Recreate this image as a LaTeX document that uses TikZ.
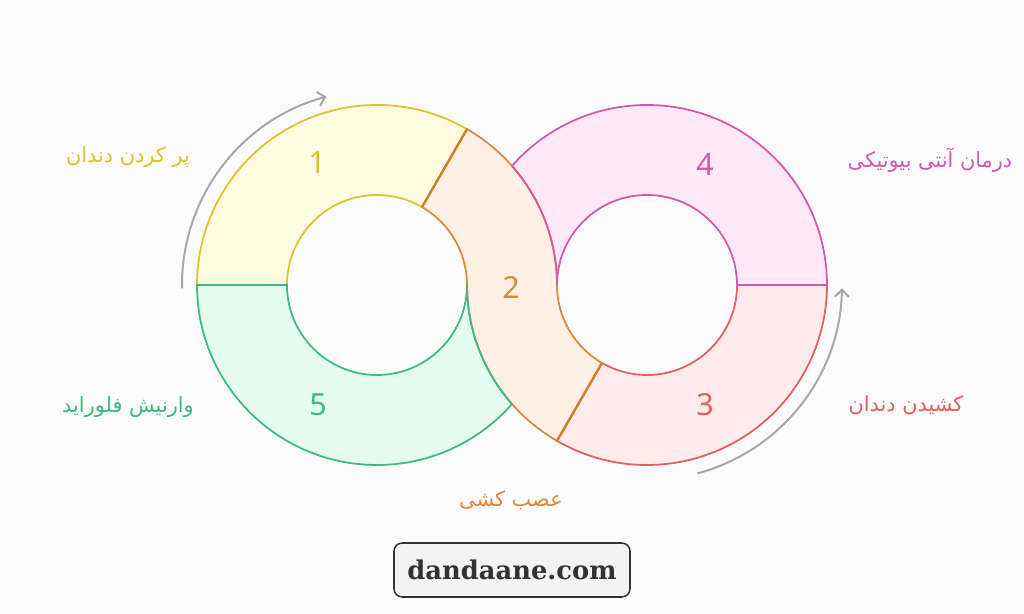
\documentclass[tikz,border=0pt]{standalone}
\usepackage{fontspec}
\setmainfont{Noto Sans}
\newfontfamily\arabicfont[Script=Arabic]{DejaVu Sans}
\newfontfamily\webfont{DejaVu Serif}
\TeXXeTstate=1
\usetikzlibrary{arrows.meta,calc}
\definecolor{yelc}{HTML}{D9C62B}
\definecolor{yelfill}{HTML}{FFFBE0}
\definecolor{orac}{HTML}{D98A3D}
\definecolor{oracut}{HTML}{D17F27}
\definecolor{orafill}{HTML}{FFF0E5}
\definecolor{pinkc}{HTML}{D45AA8}
\definecolor{pinkfill}{HTML}{FDE9F6}
\definecolor{redc}{HTML}{E0605F}
\definecolor{redfill}{HTML}{FEECEB}
\definecolor{grnc}{HTML}{3DBA80}
\definecolor{grnfill}{HTML}{E5FBEF}
\definecolor{arrgray}{HTML}{A8A8A8}
\definecolor{bgc}{HTML}{FBFBFB}
\definecolor{boxfill}{HTML}{F3F3F3}
\definecolor{boxdraw}{HTML}{333333}
\begin{document}
\begin{tikzpicture}[x=0.03cm,y=0.03cm,
  seg/.style={line width=1.5pt},
  num/.style={font=\fontsize{26}{30}\selectfont},
  lab/.style={font=\arabicfont\fontsize{17.8}{22}\selectfont},
  arr/.style={arrgray,line width=1.7pt,-{Straight Barb[length=6pt,width=12pt]}}]
\fill[bgc] (0,0) rectangle (1024,614);
\useasboundingbox (0,0) rectangle (1024,614);
\coordinate (c1) at (377,329);
\coordinate (c2) at (647,329);
% segment 1 (yellow)
\filldraw[seg,draw=yelc,fill=yelfill] ($(c1)+(60:180)$) arc[start angle=60,end angle=180,radius=180] -- ($(c1)+(180:90)$) arc[start angle=180,end angle=60,radius=90] -- cycle;
% segment 3 (red)
\filldraw[seg,draw=redc,fill=redfill] ($(c2)+(240:180)$) arc[start angle=240,end angle=360,radius=180] -- ($(c2)+(0:90)$) arc[start angle=360,end angle=240,radius=90] -- cycle;
% segment 5 (green)
\filldraw[seg,draw=grnc,fill=grnfill] ($(c1)+(180:180)$) arc[start angle=180,end angle=360,radius=180] -- ($(c1)+(0:90)$) arc[start angle=360,end angle=180,radius=90] -- cycle;
% segment 4 (pink)
\filldraw[seg,draw=pinkc,fill=pinkfill] ($(c2)+(0:180)$) arc[start angle=0,end angle=180,radius=180] -- ($(c2)+(180:90)$) arc[start angle=180,end angle=0,radius=90] -- cycle;
% segment 2 (orange)
\filldraw[seg,draw=orac,fill=orafill] ($(c1)+(60:180)$) arc[start angle=60,end angle=0,radius=180] arc[start angle=180,end angle=240,radius=90] -- ($(c2)+(240:180)$) arc[start angle=240,end angle=180,radius=180] arc[start angle=0,end angle=60,radius=90] -- cycle;
% boundaries
\draw[seg,pinkc] ($(c1)+(41.41:180)$) arc[start angle=41.41,end angle=0,radius=180];
\draw[seg,grnc] ($(c2)+(180:180)$) arc[start angle=180,end angle=221.41,radius=180];
\draw[oracut,line width=2pt] ($(c1)+(60:90)$) -- ($(c1)+(60:180)$);
\draw[oracut,line width=2pt] ($(c2)+(240:90)$) -- ($(c2)+(240:180)$);
% arrows
\draw[arr] ($(c1)+(181:195)$) arc[start angle=181,end angle=105,radius=195];
\draw[arr] ($(c2)+(-75:195)$) arc[start angle=-75,end angle=-1,radius=195];
% numbers
\node[num,text=yelc] (n1) at (317,451) {1};
\node[num,text=orac] (n2) at (511,327) {2};
\node[num,text=redc] (n3) at (705,209) {3};
\node[num,text=pinkc] (n4) at (705,449) {4};
\node[num,text=grnc] (n5) at (318,209) {5};
% labels
\node[lab,text=yelc] (l1) at (128,457) {\beginR پر کردن دندان\endR};
\node[lab,text=pinkc] (l4) at (930,454) {\beginR درمان آنتی بیوتیکی\endR};
\node[lab,text=grnc] (l5) at (128,207) {\beginR وارنیش فلوراید\endR};
\node[lab,text=redc] (l3) at (906,209) {\beginR کشیدن دندان\endR};
\node[lab,text=orac] (l2) at (511,114) {\beginR عصب کشی\endR};
% website box
\node[draw=boxdraw,fill=boxfill,line width=1.3pt,rounded corners=7pt,minimum width=236*0.03cm,minimum height=54*0.03cm,font=\webfont\bfseries\fontsize{22}{26}\selectfont,text=boxdraw] (web) at (512,44) {dandaane.com};
\end{tikzpicture}
\end{document}
